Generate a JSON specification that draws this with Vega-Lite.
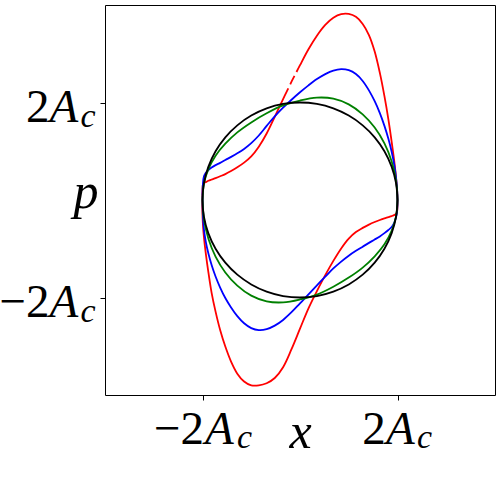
{
  "$schema": "https://vega.github.io/schema/vega-lite/v6.json",
  "autosize": {"type": "none"},
  "width": 390,
  "height": 390,
  "padding": {"left": 105, "top": 5, "right": 5, "bottom": 100},
  "background": "#ffffff",
  "config": {
    "view": {"stroke": "#000000", "strokeWidth": 1},
    "axis": {"grid": false, "domain": false, "labelFlush": false, "labelOverlap": false, "titleFontWeight": "normal", "labelColor": "#000000", "titleColor": "#000000"}
  },
  "datasets": {
    "curves": [
      {"c":"r","s":"r1","i":1,"x":-0.072,"p":2.625},
      {"c":"r","s":"r1","i":2,"x":0.000,"p":2.765},
      {"c":"r","s":"r1","i":3,"x":0.174,"p":3.092},
      {"c":"r","s":"r1","i":4,"x":0.347,"p":3.370},
      {"c":"r","s":"r1","i":5,"x":0.518,"p":3.592},
      {"c":"r","s":"r1","i":6,"x":0.684,"p":3.739},
      {"c":"r","s":"r1","i":7,"x":0.845,"p":3.813},
      {"c":"r","s":"r1","i":8,"x":1.000,"p":3.817},
      {"c":"r","s":"r1","i":9,"x":1.147,"p":3.758},
      {"c":"r","s":"r1","i":10,"x":1.286,"p":3.612},
      {"c":"r","s":"r1","i":11,"x":1.414,"p":3.384},
      {"c":"r","s":"r1","i":12,"x":1.532,"p":3.046},
      {"c":"r","s":"r1","i":13,"x":1.638,"p":2.607},
      {"c":"r","s":"r1","i":14,"x":1.732,"p":2.130},
      {"c":"r","s":"r1","i":15,"x":1.813,"p":1.655},
      {"c":"r","s":"r1","i":16,"x":1.879,"p":1.204},
      {"c":"r","s":"r1","i":17,"x":1.932,"p":0.808},
      {"c":"r","s":"r1","i":18,"x":1.970,"p":0.467},
      {"c":"r","s":"r1","i":19,"x":1.992,"p":0.204},
      {"c":"r","s":"r1","i":20,"x":2.000,"p":0.000},
      {"c":"r","s":"r1","i":21,"x":1.998,"p":-0.160},
      {"c":"r","s":"r1","i":22,"x":1.990,"p":-0.245},
      {"c":"r","s":"r1","i":23,"x":1.970,"p":-0.285},
      {"c":"r","s":"r1","i":24,"x":1.940,"p":-0.305},
      {"c":"r","s":"r1","i":25,"x":1.879,"p":-0.330},
      {"c":"r","s":"r1","i":26,"x":1.813,"p":-0.352},
      {"c":"r","s":"r1","i":27,"x":1.732,"p":-0.378},
      {"c":"r","s":"r1","i":28,"x":1.638,"p":-0.410},
      {"c":"r","s":"r1","i":29,"x":1.532,"p":-0.452},
      {"c":"r","s":"r1","i":30,"x":1.414,"p":-0.505},
      {"c":"r","s":"r1","i":31,"x":1.286,"p":-0.572},
      {"c":"r","s":"r1","i":32,"x":1.147,"p":-0.658},
      {"c":"r","s":"r1","i":33,"x":1.000,"p":-0.792},
      {"c":"r","s":"r1","i":34,"x":0.845,"p":-0.993},
      {"c":"r","s":"r1","i":35,"x":0.684,"p":-1.249},
      {"c":"r","s":"r1","i":36,"x":0.518,"p":-1.542},
      {"c":"r","s":"r1","i":37,"x":0.347,"p":-1.870},
      {"c":"r","s":"r1","i":38,"x":0.174,"p":-2.222},
      {"c":"r","s":"r1","i":39,"x":0.000,"p":-2.640},
      {"c":"r","s":"r1","i":40,"x":-0.174,"p":-3.060},
      {"c":"r","s":"r1","i":41,"x":-0.347,"p":-3.430},
      {"c":"r","s":"r1","i":42,"x":-0.518,"p":-3.652},
      {"c":"r","s":"r1","i":43,"x":-0.684,"p":-3.759},
      {"c":"r","s":"r1","i":44,"x":-0.845,"p":-3.803},
      {"c":"r","s":"r1","i":45,"x":-1.000,"p":-3.802},
      {"c":"r","s":"r1","i":46,"x":-1.147,"p":-3.723},
      {"c":"r","s":"r1","i":47,"x":-1.286,"p":-3.562},
      {"c":"r","s":"r1","i":48,"x":-1.414,"p":-3.314},
      {"c":"r","s":"r1","i":49,"x":-1.532,"p":-3.006},
      {"c":"r","s":"r1","i":50,"x":-1.638,"p":-2.667},
      {"c":"r","s":"r1","i":51,"x":-1.732,"p":-2.290},
      {"c":"r","s":"r1","i":52,"x":-1.813,"p":-1.905},
      {"c":"r","s":"r1","i":53,"x":-1.879,"p":-1.484},
      {"c":"r","s":"r1","i":54,"x":-1.932,"p":-1.098},
      {"c":"r","s":"r1","i":55,"x":-1.970,"p":-0.767},
      {"c":"r","s":"r1","i":56,"x":-1.992,"p":-0.484},
      {"c":"r","s":"r1","i":57,"x":-2.003,"p":-0.200},
      {"c":"r","s":"r1","i":58,"x":-2.003,"p":0.050},
      {"c":"r","s":"r1","i":59,"x":-1.998,"p":0.250},
      {"c":"r","s":"r1","i":60,"x":-1.988,"p":0.330},
      {"c":"r","s":"r1","i":61,"x":-1.962,"p":0.357},
      {"c":"r","s":"r1","i":62,"x":-1.932,"p":0.368},
      {"c":"r","s":"r1","i":63,"x":-1.879,"p":0.394},
      {"c":"r","s":"r1","i":64,"x":-1.813,"p":0.420},
      {"c":"r","s":"r1","i":65,"x":-1.732,"p":0.450},
      {"c":"r","s":"r1","i":66,"x":-1.638,"p":0.487},
      {"c":"r","s":"r1","i":67,"x":-1.532,"p":0.531},
      {"c":"r","s":"r1","i":68,"x":-1.414,"p":0.594},
      {"c":"r","s":"r1","i":69,"x":-1.286,"p":0.670},
      {"c":"r","s":"r1","i":70,"x":-1.147,"p":0.766},
      {"c":"r","s":"r1","i":71,"x":-1.000,"p":0.894},
      {"c":"r","s":"r1","i":72,"x":-0.845,"p":1.093},
      {"c":"r","s":"r1","i":73,"x":-0.684,"p":1.364},
      {"c":"r","s":"r1","i":74,"x":-0.518,"p":1.707},
      {"c":"r","s":"r1","i":75,"x":-0.347,"p":2.070},
      {"c":"r","s":"r1","i":76,"x":-0.240,"p":2.290},
      {"c":"r","s":"r2","i":77,"x":-0.200,"p":2.373},
      {"c":"r","s":"r2","i":78,"x":-0.174,"p":2.427},
      {"c":"r","s":"r2","i":79,"x":-0.113,"p":2.545},

      {"c":"b","s":"b1","i":1,"x":-2.000,"p":0.100},
      {"c":"b","s":"b1","i":2,"x":-1.992,"p":0.324},
      {"c":"b","s":"b1","i":3,"x":-1.970,"p":0.487},
      {"c":"b","s":"b1","i":4,"x":-1.932,"p":0.558},
      {"c":"b","s":"b1","i":5,"x":-1.879,"p":0.614},
      {"c":"b","s":"b1","i":6,"x":-1.813,"p":0.665},
      {"c":"b","s":"b1","i":7,"x":-1.732,"p":0.715},
      {"c":"b","s":"b1","i":8,"x":-1.638,"p":0.762},
      {"c":"b","s":"b1","i":9,"x":-1.532,"p":0.821},
      {"c":"b","s":"b1","i":10,"x":-1.414,"p":0.884},
      {"c":"b","s":"b1","i":11,"x":-1.286,"p":0.957},
      {"c":"b","s":"b1","i":12,"x":-1.147,"p":1.048},
      {"c":"b","s":"b1","i":13,"x":-1.000,"p":1.167},
      {"c":"b","s":"b1","i":14,"x":-0.845,"p":1.323},
      {"c":"b","s":"b1","i":15,"x":-0.684,"p":1.519},
      {"c":"b","s":"b1","i":16,"x":-0.518,"p":1.717},
      {"c":"b","s":"b1","i":17,"x":-0.347,"p":1.895},
      {"c":"b","s":"b1","i":18,"x":-0.174,"p":2.057},
      {"c":"b","s":"b1","i":19,"x":0.000,"p":2.210},
      {"c":"b","s":"b1","i":20,"x":0.174,"p":2.352},
      {"c":"b","s":"b1","i":21,"x":0.347,"p":2.480},
      {"c":"b","s":"b1","i":22,"x":0.518,"p":2.582},
      {"c":"b","s":"b1","i":23,"x":0.684,"p":2.654},
      {"c":"b","s":"b1","i":24,"x":0.845,"p":2.683},
      {"c":"b","s":"b1","i":25,"x":1.000,"p":2.662},
      {"c":"b","s":"b1","i":26,"x":1.147,"p":2.583},
      {"c":"b","s":"b1","i":27,"x":1.286,"p":2.442},
      {"c":"b","s":"b1","i":28,"x":1.414,"p":2.249},
      {"c":"b","s":"b1","i":29,"x":1.532,"p":2.026},
      {"c":"b","s":"b1","i":30,"x":1.638,"p":1.782},
      {"c":"b","s":"b1","i":31,"x":1.732,"p":1.520},
      {"c":"b","s":"b1","i":32,"x":1.813,"p":1.255},
      {"c":"b","s":"b1","i":33,"x":1.879,"p":0.994},
      {"c":"b","s":"b1","i":34,"x":1.932,"p":0.728},
      {"c":"b","s":"b1","i":35,"x":1.970,"p":0.462},
      {"c":"b","s":"b1","i":36,"x":1.992,"p":0.209},
      {"c":"b","s":"b1","i":37,"x":2.000,"p":0.000},
      {"c":"b","s":"b1","i":38,"x":1.992,"p":-0.224},
      {"c":"b","s":"b1","i":39,"x":1.970,"p":-0.357},
      {"c":"b","s":"b1","i":40,"x":1.932,"p":-0.468},
      {"c":"b","s":"b1","i":41,"x":1.879,"p":-0.554},
      {"c":"b","s":"b1","i":42,"x":1.813,"p":-0.615},
      {"c":"b","s":"b1","i":43,"x":1.732,"p":-0.680},
      {"c":"b","s":"b1","i":44,"x":1.638,"p":-0.747},
      {"c":"b","s":"b1","i":45,"x":1.532,"p":-0.811},
      {"c":"b","s":"b1","i":46,"x":1.414,"p":-0.879},
      {"c":"b","s":"b1","i":47,"x":1.286,"p":-0.957},
      {"c":"b","s":"b1","i":48,"x":1.147,"p":-1.043},
      {"c":"b","s":"b1","i":49,"x":1.000,"p":-1.142},
      {"c":"b","s":"b1","i":50,"x":0.845,"p":-1.263},
      {"c":"b","s":"b1","i":51,"x":0.684,"p":-1.404},
      {"c":"b","s":"b1","i":52,"x":0.518,"p":-1.572},
      {"c":"b","s":"b1","i":53,"x":0.347,"p":-1.750},
      {"c":"b","s":"b1","i":54,"x":0.174,"p":-1.937},
      {"c":"b","s":"b1","i":55,"x":0.000,"p":-2.120},
      {"c":"b","s":"b1","i":56,"x":-0.174,"p":-2.302},
      {"c":"b","s":"b1","i":57,"x":-0.347,"p":-2.460},
      {"c":"b","s":"b1","i":58,"x":-0.518,"p":-2.577},
      {"c":"b","s":"b1","i":59,"x":-0.684,"p":-2.649},
      {"c":"b","s":"b1","i":60,"x":-0.845,"p":-2.668},
      {"c":"b","s":"b1","i":61,"x":-1.000,"p":-2.627},
      {"c":"b","s":"b1","i":62,"x":-1.147,"p":-2.528},
      {"c":"b","s":"b1","i":63,"x":-1.286,"p":-2.382},
      {"c":"b","s":"b1","i":64,"x":-1.414,"p":-2.204},
      {"c":"b","s":"b1","i":65,"x":-1.532,"p":-2.011},
      {"c":"b","s":"b1","i":66,"x":-1.638,"p":-1.797},
      {"c":"b","s":"b1","i":67,"x":-1.732,"p":-1.570},
      {"c":"b","s":"b1","i":68,"x":-1.813,"p":-1.335},
      {"c":"b","s":"b1","i":69,"x":-1.879,"p":-1.099},
      {"c":"b","s":"b1","i":70,"x":-1.932,"p":-0.858},
      {"c":"b","s":"b1","i":71,"x":-1.970,"p":-0.607},
      {"c":"b","s":"b1","i":72,"x":-1.992,"p":-0.314},
      {"c":"b","s":"b1","i":73,"x":-2.000,"p":0.100},

      {"c":"g","s":"g1","i":1,"x":-2.000,"p":0.000},
      {"c":"g","s":"g1","i":2,"x":-1.970,"p":0.337},
      {"c":"g","s":"g1","i":3,"x":-1.879,"p":0.634},
      {"c":"g","s":"g1","i":4,"x":-1.732,"p":0.910},
      {"c":"g","s":"g1","i":5,"x":-1.532,"p":1.156},
      {"c":"g","s":"g1","i":6,"x":-1.286,"p":1.387},
      {"c":"g","s":"g1","i":7,"x":-1.000,"p":1.592},
      {"c":"g","s":"g1","i":8,"x":-0.684,"p":1.779},
      {"c":"g","s":"g1","i":9,"x":-0.347,"p":1.940},
      {"c":"g","s":"g1","i":10,"x":0.000,"p":2.040},
      {"c":"g","s":"g1","i":11,"x":0.347,"p":2.100},
      {"c":"g","s":"g1","i":12,"x":0.684,"p":2.079},
      {"c":"g","s":"g1","i":13,"x":1.000,"p":1.962},
      {"c":"g","s":"g1","i":14,"x":1.286,"p":1.757},
      {"c":"g","s":"g1","i":15,"x":1.532,"p":1.486},
      {"c":"g","s":"g1","i":16,"x":1.732,"p":1.160},
      {"c":"g","s":"g1","i":17,"x":1.879,"p":0.794},
      {"c":"g","s":"g1","i":18,"x":1.970,"p":0.397},
      {"c":"g","s":"g1","i":19,"x":2.000,"p":0.000},
      {"c":"g","s":"g1","i":20,"x":1.970,"p":-0.337},
      {"c":"g","s":"g1","i":21,"x":1.879,"p":-0.634},
      {"c":"g","s":"g1","i":22,"x":1.732,"p":-0.910},
      {"c":"g","s":"g1","i":23,"x":1.532,"p":-1.156},
      {"c":"g","s":"g1","i":24,"x":1.286,"p":-1.387},
      {"c":"g","s":"g1","i":25,"x":1.000,"p":-1.592},
      {"c":"g","s":"g1","i":26,"x":0.684,"p":-1.779},
      {"c":"g","s":"g1","i":27,"x":0.347,"p":-1.940},
      {"c":"g","s":"g1","i":28,"x":0.000,"p":-2.040},
      {"c":"g","s":"g1","i":29,"x":-0.347,"p":-2.100},
      {"c":"g","s":"g1","i":30,"x":-0.684,"p":-2.079},
      {"c":"g","s":"g1","i":31,"x":-1.000,"p":-1.962},
      {"c":"g","s":"g1","i":32,"x":-1.286,"p":-1.757},
      {"c":"g","s":"g1","i":33,"x":-1.532,"p":-1.486},
      {"c":"g","s":"g1","i":34,"x":-1.732,"p":-1.160},
      {"c":"g","s":"g1","i":35,"x":-1.879,"p":-0.794},
      {"c":"g","s":"g1","i":36,"x":-1.970,"p":-0.397},
      {"c":"g","s":"g1","i":37,"x":-2.000,"p":0.000},

      {"c":"k","s":"k1","i":1,"x":2.000,"p":0.000},
      {"c":"k","s":"k1","i":2,"x":1.970,"p":0.347},
      {"c":"k","s":"k1","i":3,"x":1.879,"p":0.684},
      {"c":"k","s":"k1","i":4,"x":1.732,"p":1.000},
      {"c":"k","s":"k1","i":5,"x":1.532,"p":1.286},
      {"c":"k","s":"k1","i":6,"x":1.286,"p":1.532},
      {"c":"k","s":"k1","i":7,"x":1.000,"p":1.732},
      {"c":"k","s":"k1","i":8,"x":0.684,"p":1.879},
      {"c":"k","s":"k1","i":9,"x":0.347,"p":1.970},
      {"c":"k","s":"k1","i":10,"x":0.000,"p":2.000},
      {"c":"k","s":"k1","i":11,"x":-0.347,"p":1.970},
      {"c":"k","s":"k1","i":12,"x":-0.684,"p":1.879},
      {"c":"k","s":"k1","i":13,"x":-1.000,"p":1.732},
      {"c":"k","s":"k1","i":14,"x":-1.286,"p":1.532},
      {"c":"k","s":"k1","i":15,"x":-1.532,"p":1.286},
      {"c":"k","s":"k1","i":16,"x":-1.732,"p":1.000},
      {"c":"k","s":"k1","i":17,"x":-1.879,"p":0.684},
      {"c":"k","s":"k1","i":18,"x":-1.970,"p":0.347},
      {"c":"k","s":"k1","i":19,"x":-2.000,"p":0.000},
      {"c":"k","s":"k1","i":20,"x":-1.970,"p":-0.347},
      {"c":"k","s":"k1","i":21,"x":-1.879,"p":-0.684},
      {"c":"k","s":"k1","i":22,"x":-1.732,"p":-1.000},
      {"c":"k","s":"k1","i":23,"x":-1.532,"p":-1.286},
      {"c":"k","s":"k1","i":24,"x":-1.286,"p":-1.532},
      {"c":"k","s":"k1","i":25,"x":-1.000,"p":-1.732},
      {"c":"k","s":"k1","i":26,"x":-0.684,"p":-1.879},
      {"c":"k","s":"k1","i":27,"x":-0.347,"p":-1.970},
      {"c":"k","s":"k1","i":28,"x":0.000,"p":-2.000},
      {"c":"k","s":"k1","i":29,"x":0.347,"p":-1.970},
      {"c":"k","s":"k1","i":30,"x":0.684,"p":-1.879},
      {"c":"k","s":"k1","i":31,"x":1.000,"p":-1.732},
      {"c":"k","s":"k1","i":32,"x":1.286,"p":-1.532},
      {"c":"k","s":"k1","i":33,"x":1.532,"p":-1.286},
      {"c":"k","s":"k1","i":34,"x":1.732,"p":-1.000},
      {"c":"k","s":"k1","i":35,"x":1.879,"p":-0.684},
      {"c":"k","s":"k1","i":36,"x":1.970,"p":-0.347},
      {"c":"k","s":"k1","i":37,"x":2.000,"p":0.000}
    ]
  },
  "data": {"name": "curves"},
  "layer": [
    {
      "mark": {"type": "line", "interpolate": "catmull-rom", "strokeWidth": 1.8},
      "encoding": {
        "x": {
          "field": "x", "type": "quantitative",
          "scale": {"domain": [-4, 4], "nice": false, "zero": false},
          "axis": {
            "orient": "bottom", "values": [-2, 2], "ticks": true, "tickSize": 5, "tickColor": "#000000", "tickWidth": 1,
            "labelExpr": "datum.value < 0 ? '−2' : '2'",
            "labelFont": "Liberation Serif", "labelFontSize": 47, "labelAlign": "center", "labelBaseline": "alphabetic",
            "labelPadding": 43, "labelOffset": -24,
            "title": "x", "titleFont": "Liberation Serif", "titleFontSize": 50, "titleFontStyle": "italic",
            "titleBaseline": "alphabetic", "titleY": 52
          }
        },
        "y": {
          "field": "p", "type": "quantitative",
          "scale": {"domain": [-4, 4], "nice": false, "zero": false},
          "axis": {
            "orient": "left", "values": [-2, 2], "ticks": true, "tickSize": 5, "tickColor": "#000000", "tickWidth": 1,
            "labelExpr": "datum.value < 0 ? '−2' : '2'",
            "labelFont": "Liberation Serif", "labelFontSize": 47, "labelAlign": "right", "labelBaseline": "alphabetic",
            "labelPadding": 51, "labelOffset": 19,
            "title": "p", "titleFont": "Liberation Serif", "titleFontSize": 50, "titleFontStyle": "italic",
            "titleAngle": 0, "titleAlign": "right", "titleBaseline": "alphabetic", "titleX": -7, "titleY": 202
          }
        },
        "color": {
          "field": "c", "type": "nominal",
          "scale": {"domain": ["r", "b", "g", "k"], "range": ["#ff0000", "#0000ff", "#008000", "#000000"]},
          "legend": null
        },
        "detail": {"field": "s"},
        "order": {"field": "i", "type": "quantitative"}
      }
    },
    {
      "mark": {"type": "point", "opacity": 0},
      "encoding": {
        "x": {
          "field": "x", "type": "quantitative",
          "scale": {"domain": [-4, 4], "nice": false, "zero": false},
          "axis": {
            "orient": "bottom", "values": [-2, 2], "ticks": false, "tickSize": 0,
            "labelExpr": "'A'",
            "labelFont": "Liberation Serif", "labelFontSize": 47, "labelFontStyle": "italic", "labelAlign": "left", "labelBaseline": "alphabetic",
            "labelPadding": 48,
            "labelOffset": {"condition": {"test": "datum.value < 0", "value": 2}, "value": -12},
            "title": null
          }
        },
        "y": {
          "field": "p", "type": "quantitative",
          "scale": {"domain": [-4, 4], "nice": false, "zero": false},
          "axis": {
            "orient": "left", "values": [-2, 2], "ticks": false, "tickSize": 0,
            "labelExpr": "'A'",
            "labelFont": "Liberation Serif", "labelFontSize": 47, "labelFontStyle": "italic", "labelAlign": "left", "labelBaseline": "alphabetic",
            "labelPadding": 56, "labelOffset": 19,
            "title": null
          }
        }
      }
    },
    {
      "mark": {"type": "point", "opacity": 0},
      "encoding": {
        "x": {
          "field": "x", "type": "quantitative",
          "scale": {"domain": [-4, 4], "nice": false, "zero": false},
          "axis": {
            "orient": "bottom", "values": [-2, 2], "ticks": false, "tickSize": 0,
            "labelExpr": "'c'",
            "labelFont": "Liberation Serif", "labelFontSize": 34, "labelFontStyle": "italic", "labelAlign": "left", "labelBaseline": "alphabetic",
            "labelPadding": 52,
            "labelOffset": {"condition": {"test": "datum.value < 0", "value": 34}, "value": 19},
            "title": null
          }
        },
        "y": {
          "field": "p", "type": "quantitative",
          "scale": {"domain": [-4, 4], "nice": false, "zero": false},
          "axis": {
            "orient": "left", "values": [-2, 2], "ticks": false, "tickSize": 0,
            "labelExpr": "'c'",
            "labelFont": "Liberation Serif", "labelFontSize": 34, "labelFontStyle": "italic", "labelAlign": "left", "labelBaseline": "alphabetic",
            "labelPadding": 25, "labelOffset": 24,
            "title": null
          }
        }
      }
    }
  ],
  "resolve": {"axis": {"x": "independent", "y": "independent"}}
}
